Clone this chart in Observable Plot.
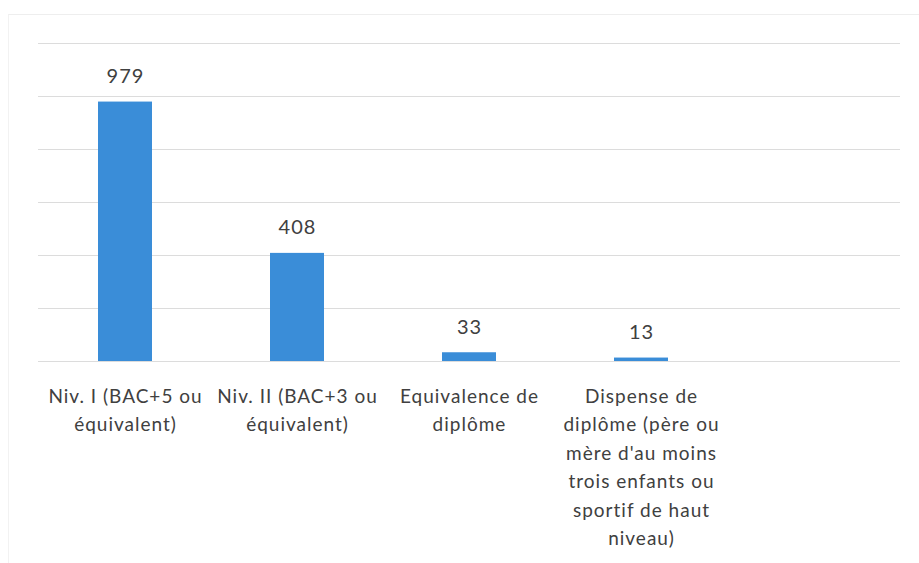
<!DOCTYPE html>
<html>
<head>
<meta charset="utf-8">
<script src="https://cdn.jsdelivr.net/npm/d3@7"></script>
<script src="https://cdn.jsdelivr.net/npm/@observablehq/plot@0.6"></script>
<style>
  html, body { margin: 0; padding: 0; background: #fff; }
  #chart { position: relative; width: 919px; height: 563px; }
  #frame { position: absolute; left: 8px; top: 14px; right: 0; bottom: 0; border-top: 1px solid #eeeeee; border-left: 1px solid #f2f2f2; pointer-events: none; }
  #chart svg text { letter-spacing: 1px; }
</style>
</head>
<body>
<div id="chart"><div id="frame"></div></div>
<script>
const categories = [
  "Niv. I (BAC+5 ou équivalent)",
  "Niv. II (BAC+3 ou équivalent)",
  "Equivalence de diplôme",
  "Dispense de diplôme (père ou mère d'au moins trois enfants ou sportif de haut niveau)"
];
const values = [979, 408, 33, 13];
const tickLabels = [
  "Niv. I (BAC+5 ou\néquivalent)",
  "Niv. II (BAC+3 ou\néquivalent)",
  "Equivalence de\ndiplôme",
  "Dispense de\ndiplôme (père ou\nmère d'au moins\ntrois enfants ou\nsportif de haut\nniveau)"
];
const yTicks = [0, 200, 400, 600, 800, 1000, 1200];

const data = categories.map((c, i) => ({category: c, value: values[i]}));

const chart = Plot.plot({
  width: 919,
  height: 563,
  marginTop: 43,
  marginBottom: 202,
  marginLeft: 38,
  marginRight: 19,
  x: {domain: [...categories, ""], paddingInner: 0.687, paddingOuter: 0.3435},
  y: {domain: [0, 1200], axis: null},
  style: {fontFamily: "Lato, 'Open Sans', sans-serif", fontSize: "19px", color: "#404040", background: "transparent"},
  marks: [
    Plot.ruleY(yTicks, {stroke: "#dcdcdc", strokeWidth: 1}),
    Plot.barY(data, {x: "category", y: "value", fill: "#3a8dd8"}),
    Plot.text(data, {x: "category", y: "value", text: d => String(d.value), dy: -19, lineAnchor: "bottom", fill: "#404040", fontSize: 20}),
    Plot.axisX(categories, {
      tickSize: 0,
      tickPadding: 21,
      tickFormat: c => tickLabels[categories.indexOf(c)],
      lineHeight: 1.5,
      fontSize: 19,
      fill: "#404040",
      label: null
    })
  ]
});
document.getElementById("chart").appendChild(chart);
</script>
</body>
</html>
